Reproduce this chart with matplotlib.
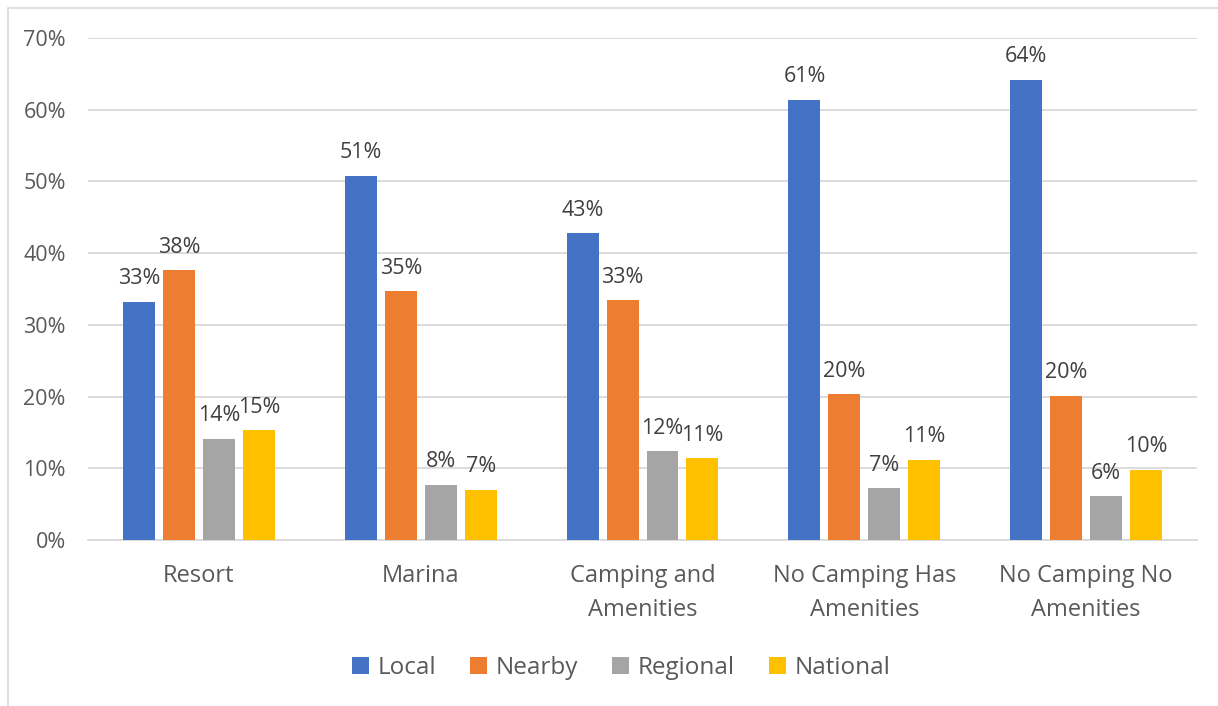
import matplotlib
matplotlib.use("Agg")
import matplotlib.pyplot as plt
import numpy as np
from matplotlib.patches import Rectangle

categories = ["Resort", "Marina", "Camping and\nAmenities",
              "No Camping Has\nAmenities", "No Camping No\nAmenities"]
series = ["Local", "Nearby", "Regional", "National"]
local = [0.332, 0.508, 0.428, 0.614, 0.642]
nearby = [0.376, 0.347, 0.334, 0.203, 0.201]
regional = [0.141, 0.077, 0.124, 0.072, 0.061]
national = [0.153, 0.070, 0.114, 0.112, 0.098]
colors = ["#4472C4", "#ED7D31", "#A5A5A5", "#FFC000"]
yticks = [0.0, 0.1, 0.2, 0.3, 0.4, 0.5, 0.6, 0.7]

text_color = "#595959"
plt.rcParams["font.family"] = ["Open Sans", "DejaVu Sans"]

fig = plt.figure(figsize=(12.18, 7.06), dpi=100)
ax = fig.add_axes([0.0723, 0.2351, 0.9105, 0.7111])

x = np.arange(len(categories))
step = 0.18
width = 0.144
for i, (name, vals) in enumerate(zip(series, [local, nearby, regional, national])):
    pos = x + (i - 1.5) * step
    bars = ax.bar(pos, vals, width, color=colors[i], label=name, zorder=3)
    for b, v in zip(bars, vals):
        ax.annotate("{:.0%}".format(v), (b.get_x() + b.get_width() / 2, v),
                    xytext=(0, 9), textcoords="offset points",
                    ha="center", va="bottom", fontsize=15.5, color="#404040")

ax.set_xlim(-0.5, len(categories) - 0.5)
ax.set_ylim(0, 0.70)
ax.set_yticks(yticks)
ax.set_yticklabels(["{:.0%}".format(t) for t in yticks])
ax.set_xticks(x)
ax.set_xticklabels(categories, fontsize=17, color=text_color, linespacing=1.6)
ax.tick_params(axis="y", labelsize=15.5, colors=text_color, length=0, pad=16)
ax.tick_params(axis="x", length=0, pad=17)
ax.grid(axis="y", color="#d9d9d9", linewidth=1.3, zorder=0)
for s in ["top", "right", "left"]:
    ax.spines[s].set_visible(False)
ax.spines["bottom"].set_color("#d9d9d9")
ax.spines["bottom"].set_linewidth(1.3)

leg = fig.legend(loc="center", bbox_to_anchor=(0.510, 0.054), ncol=4,
                 frameon=False, fontsize=17.5, handlelength=0.7,
                 handleheight=0.7, handletextpad=0.35, columnspacing=1.4)
for t in leg.get_texts():
    t.set_color(text_color)

# chart frame
fig.patches.append(Rectangle((0.0066, -0.01), 1.2, 0.999, transform=fig.transFigure,
                             fill=False, edgecolor="#d9d9d9", linewidth=1.2))

fig.savefig("out.png", dpi=100)
